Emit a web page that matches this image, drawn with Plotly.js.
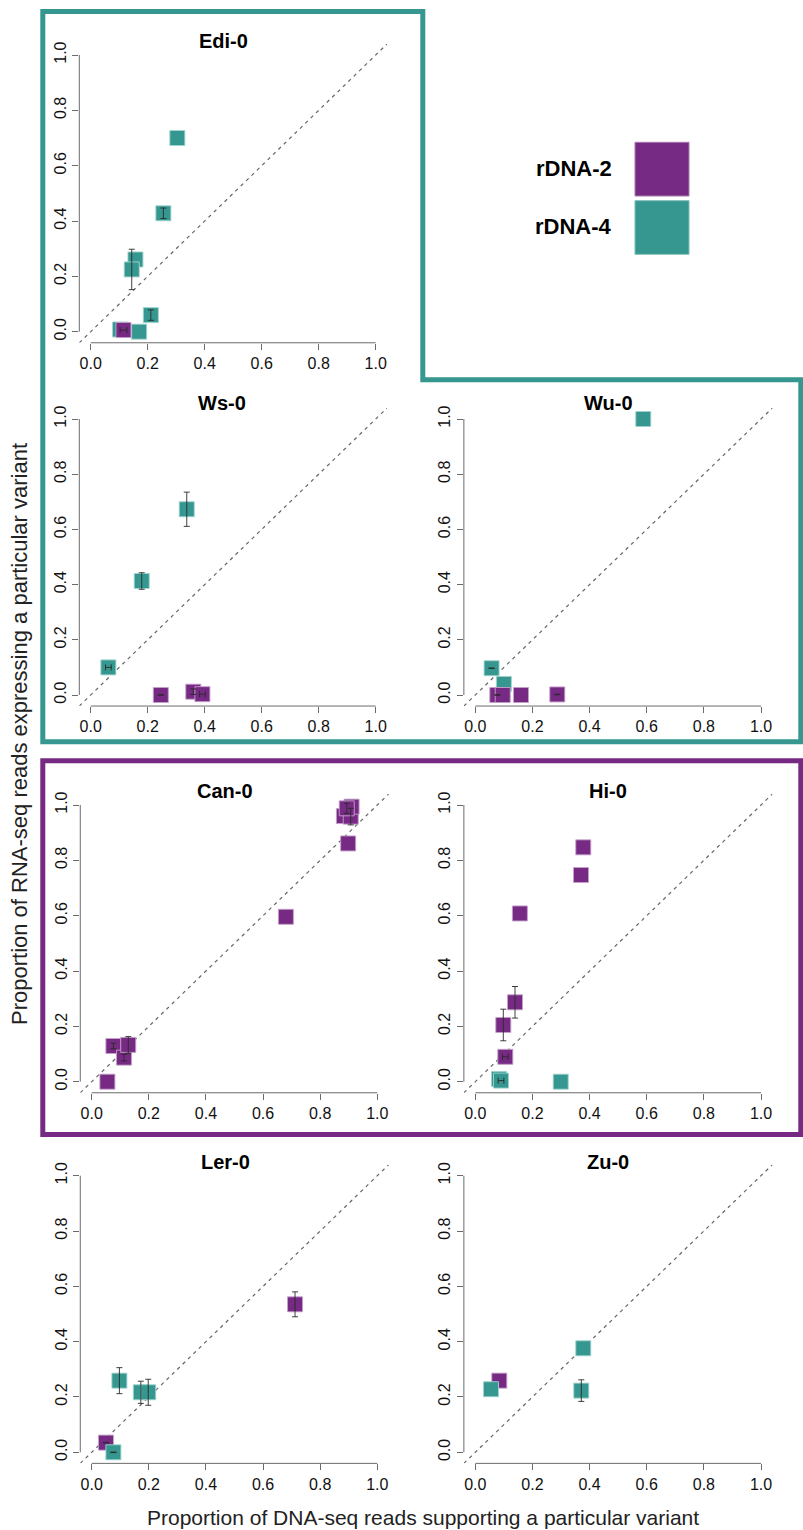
<!DOCTYPE html>
<html>
<head>
<meta charset="utf-8">
<script src="https://cdn.plot.ly/plotly-3.0.1.min.js"></script>
<style>html,body{margin:0;padding:0;background:#fff;}#chart{width:803px;height:1530px;}</style>
</head>
<body>
<div id="chart"></div>
<script>
// ---------------- DATA ----------------
const seriesNames = ['rDNA-2', 'rDNA-4'];
const panelNames = ['Edi-0', 'Ws-0', 'Wu-0', 'Can-0', 'Hi-0', 'Ler-0', 'Zu-0'];
const tickValues = [0, 0.2, 0.4, 0.6, 0.8, 1.0];
const tickLabels = ['0.0', '0.2', '0.4', '0.6', '0.8', '1.0'];
const identityLine = [-0.04, 1.04];

// Edi-0
const ediR2x = [0.115];
const ediR2y = [0.006];
const ediR2ey = [null];
const ediR2ex = [0.012];
const ediR4x = [0.304, 0.255, 0.157, 0.144, 0.211, 0.103, 0.170];
const ediR4y = [0.700, 0.428, 0.261, 0.225, 0.060, 0.008, 0.000];
const ediR4ey = [null, 0.019, null, 0.073, 0.019, null, null];
const ediR4ex = [null, null, null, null, null, null, null];

// Ws-0
const wsR2x = [0.246, 0.360, 0.392];
const wsR2y = [0.000, 0.012, 0.003];
const wsR2ey = [0.001, 0.010, null];
const wsR2ex = [null, null, 0.010];
const wsR4x = [0.337, 0.179, 0.062];
const wsR4y = [0.673, 0.413, 0.100];
const wsR4ey = [0.062, 0.030, null];
const wsR4ex = [null, null, 0.010];

// Wu-0
const wuR2x = [0.077, 0.096, 0.160, 0.287];
const wuR2y = [0.000, 0.000, 0.000, 0.002];
const wuR2ey = [0.001, null, null, 0.001];
const wuR2ex = [null, null, null, null];
const wuR4x = [0.588, 0.057, 0.100];
const wuR4y = [1.000, 0.097, 0.040];
const wuR4ey = [null, 0.001, null];
const wuR4ex = [null, null, null];

// Can-0
const canR2x = [0.055, 0.076, 0.113, 0.128, 0.680, 0.898, 0.883, 0.907, 0.910, 0.893];
const canR2y = [0.000, 0.129, 0.087, 0.133, 0.596, 0.861, 0.960, 0.958, 0.994, 0.988];
const canR2ey = [null, 0.010, 0.012, 0.030, null, null, null, 0.030, null, 0.018];
const canR2ex = [null, null, null, null, null, null, null, null, null, null];
const canR4x = [];
const canR4y = [];
const canR4ey = [];
const canR4ex = [];

// Hi-0
const hiR2x = [0.378, 0.370, 0.156, 0.139, 0.098, 0.105];
const hiR2y = [0.847, 0.747, 0.608, 0.287, 0.205, 0.090];
const hiR2ey = [null, null, null, 0.057, 0.057, null];
const hiR2ex = [null, null, null, null, null, 0.010];
const hiR4x = [0.083, 0.090, 0.299];
const hiR4y = [0.010, 0.004, 0.000];
const hiR4ey = [null, null, null];
const hiR4ex = [null, 0.010, null];

// Ler-0
const lerR2x = [0.712, 0.050];
const lerR2y = [0.535, 0.035];
const lerR2ey = [0.045, 0.001];
const lerR2ex = [null, null];
const lerR4x = [0.097, 0.172, 0.198, 0.076];
const lerR4y = [0.259, 0.217, 0.217, 0.000];
const lerR4ey = [0.047, 0.040, 0.047, 0.001];
const lerR4ex = [null, null, null, null];

// Zu-0
const zuR2x = [0.084];
const zuR2y = [0.259];
const zuR2ey = [null];
const zuR2ex = [null];
const zuR4x = [0.378, 0.371, 0.055];
const zuR4y = [0.376, 0.223, 0.228];
const zuR4ey = [null, 0.039, null];
const zuR4ex = [null, null, null];

// ---------------- STYLE / LAYOUT ----------------
const W = 803, H = 1530;
const PURPLE = '#762A83', TEAL = '#35978F';
const FONT = '"Liberation Sans", Arial, Helvetica, sans-serif';
const AXISGRAY = '#6b6b6b';

// pixel geometry of each panel: positions of data 0 and 1 on each axis
const geom = [
  {x0: 90.7, x1: 375.7, y0: 331.7, y1: 55.0, tx: 223.3, ty: 40.7},
  {x0: 90.7, x1: 375.7, y0: 695.0, y1: 419.0, tx: 222.3, ty: 403.3},
  {x0: 475.3, x1: 761.0, y0: 695.0, y1: 419.0, tx: 608.3, ty: 403.3},
  {x0: 91.7, x1: 377.3, y0: 1081.7, y1: 805.0, tx: 225.0, ty: 790.7},
  {x0: 475.3, x1: 761.0, y0: 1081.7, y1: 805.0, tx: 608.0, ty: 790.7},
  {x0: 91.7, x1: 377.3, y0: 1452.3, y1: 1175.7, tx: 225.0, ty: 1161.7},
  {x0: 475.3, x1: 761.0, y0: 1452.3, y1: 1175.7, tx: 608.3, ty: 1161.7}
];

const panelData = [
  {r2: [ediR2x, ediR2y, ediR2ey, ediR2ex], r4: [ediR4x, ediR4y, ediR4ey, ediR4ex], purpleOnTop: true},
  {r2: [wsR2x, wsR2y, wsR2ey, wsR2ex], r4: [wsR4x, wsR4y, wsR4ey, wsR4ex], purpleOnTop: true},
  {r2: [wuR2x, wuR2y, wuR2ey, wuR2ex], r4: [wuR4x, wuR4y, wuR4ey, wuR4ex], purpleOnTop: true},
  {r2: [canR2x, canR2y, canR2ey, canR2ex], r4: [canR4x, canR4y, canR4ey, canR4ex], purpleOnTop: true},
  {r2: [hiR2x, hiR2y, hiR2ey, hiR2ex], r4: [hiR4x, hiR4y, hiR4ey, hiR4ex], purpleOnTop: true},
  {r2: [lerR2x, lerR2y, lerR2ey, lerR2ex], r4: [lerR4x, lerR4y, lerR4ey, lerR4ex], purpleOnTop: false},
  {r2: [zuR2x, zuR2y, zuR2ey, zuR2ex], r4: [zuR4x, zuR4y, zuR4ey, zuR4ex], purpleOnTop: false}
];

const fx = px => px / W;
const fy = py => 1 - py / H;

const traces = [];
const layout = {
  width: W, height: H,
  margin: {l: 0, r: 0, t: 0, b: 0},
  paper_bgcolor: '#ffffff',
  plot_bgcolor: 'rgba(0,0,0,0)',
  showlegend: false,
  font: {family: FONT, color: '#111'},
  shapes: [],
  annotations: []
};

function markerTrace(arr, color, name, xa, ya) {
  return {
    type: 'scatter', mode: 'markers', name: name,
    x: arr[0], y: arr[1], xaxis: xa, yaxis: ya,
    cliponaxis: false, hoverinfo: 'skip',
    marker: {symbol: 'square', size: 15, color: color,
             line: {width: 1, color: color === PURPLE ? 'rgba(196,160,202,0.9)' : 'rgba(160,212,206,0.9)'}}
  };
}
// error bars only for the points that carry them (k = 2: vertical, k = 3: horizontal)
function errorTrace(arr, name, xa, ya, k) {
  const idx = arr[k].map((v, j) => (v === null || v === undefined) ? -1 : j).filter(j => j >= 0);
  if (!idx.length) return null;
  const eb = {type: 'data', array: idx.map(j => arr[k][j]), visible: true, color: '#2a2a2a', thickness: 0.9, width: 3};
  const t = {
    type: 'scatter', mode: 'markers', name: name + ' error',
    x: idx.map(j => arr[0][j]), y: idx.map(j => arr[1][j]), xaxis: xa, yaxis: ya,
    cliponaxis: false, hoverinfo: 'skip',
    marker: {size: 1, opacity: 0}
  };
  if (k === 2) t.error_y = eb; else t.error_x = eb;
  return t;
}

panelNames.forEach((pname, i) => {
  const g = geom[i];
  const n = i + 1;
  const xa = 'x' + (n === 1 ? '' : n), ya = 'y' + (n === 1 ? '' : n);
  const xkey = 'xaxis' + (n === 1 ? '' : n), ykey = 'yaxis' + (n === 1 ? '' : n);
  const dx = g.x1 - g.x0, dy = g.y0 - g.y1;
  const left = g.x0 - 0.04 * dx, right = g.x1 + 0.04 * dx;
  const bottom = g.y0 + 0.04 * dy, top = g.y1 - 0.04 * dy;

  const common = {
    range: [identityLine[0], identityLine[1]],
    tickmode: 'array', tickvals: tickValues, ticktext: tickLabels,
    ticks: 'outside', ticklen: 6, tickwidth: 1, tickcolor: AXISGRAY,
    showgrid: false, zeroline: false, showline: false, fixedrange: true,
    tickfont: {family: FONT, size: 16, color: '#111'}
  };
  layout[xkey] = Object.assign({}, common, {domain: [fx(left), fx(right)], anchor: ya});
  layout[ykey] = Object.assign({}, common, {domain: [fy(bottom), fy(top)], anchor: xa, tickangle: -90});

  // axis lines spanning only 0..1 like base R
  layout.shapes.push({type: 'line', xref: xa + ' domain', yref: ya, x0: 0, x1: 0, y0: tickValues[0], y1: tickValues[tickValues.length - 1],
                      line: {color: AXISGRAY, width: 1}});
  layout.shapes.push({type: 'line', xref: xa, yref: ya + ' domain', x0: tickValues[0], x1: tickValues[tickValues.length - 1], y0: 0, y1: 0,
                      line: {color: AXISGRAY, width: 1}});

  // identity (y = x) reference line
  traces.push({type: 'scatter', mode: 'lines', x: identityLine, y: identityLine, xaxis: xa, yaxis: ya,
               hoverinfo: 'skip', line: {color: '#666666', width: 1.2, dash: '3.5px,4px'}, name: 'y = x'});

  const pd = panelData[i];
  const order = pd.purpleOnTop ? [['r4', TEAL, seriesNames[1]], ['r2', PURPLE, seriesNames[0]]]
                               : [['r2', PURPLE, seriesNames[0]], ['r4', TEAL, seriesNames[1]]];
  order.forEach(([key, col, nm]) => {
    if (pd[key][0].length) traces.push(markerTrace(pd[key], col, nm, xa, ya));
  });
  order.forEach(([key, col, nm]) => {
    [2, 3].forEach(k => {
      const t = errorTrace(pd[key], nm, xa, ya, k);
      if (t) traces.push(t);
    });
  });

  layout.annotations.push({xref: 'paper', yref: 'paper', x: fx(g.tx), y: fy(g.ty), xanchor: 'center', yanchor: 'middle',
                           showarrow: false, text: '<b>' + pname + '</b>', font: {family: FONT, size: 20, color: '#000'}});
});

// frames
const T = 5;
layout.shapes.push({type: 'path', xref: 'paper', yref: 'paper',
  path: 'M ' + fx(42.8) + ' ' + fy(11.5) + ' L ' + fx(422.8) + ' ' + fy(11.5) + ' L ' + fx(422.8) + ' ' + fy(379.8) +
        ' L ' + fx(800.8) + ' ' + fy(379.8) + ' L ' + fx(800.8) + ' ' + fy(741.8) + ' L ' + fx(42.8) + ' ' + fy(741.8) + ' Z',
  line: {color: TEAL, width: T}});
layout.shapes.push({type: 'rect', xref: 'paper', yref: 'paper',
  x0: fx(42.8), x1: fx(800.8), y0: fy(1134.5), y1: fy(760.8),
  line: {color: PURPLE, width: T}});

// legend
const legendRows = [[seriesNames[0], PURPLE, 142.3, 196.0, 168.3], [seriesNames[1], TEAL, 200.7, 254.3, 226.7]];
legendRows.forEach(([nm, col, t, b, ty]) => {
  layout.shapes.push({type: 'rect', xref: 'paper', yref: 'paper', x0: fx(635), x1: fx(689), y0: fy(b), y1: fy(t),
                      fillcolor: col, line: {color: col === PURPLE ? '#a77aae' : '#7cbdb6', width: 1}});
  layout.annotations.push({xref: 'paper', yref: 'paper', x: fx(614), y: fy(ty), xanchor: 'right', yanchor: 'middle',
                           showarrow: false, text: '<b>' + nm + '</b>', font: {family: FONT, size: 22, color: '#000'}});
});

// axis titles
layout.annotations.push({xref: 'paper', yref: 'paper', x: fx(423), y: fy(1517), xanchor: 'center', yanchor: 'middle',
                         showarrow: false, text: 'Proportion of DNA-seq reads supporting a particular variant',
                         font: {family: FONT, size: 21, color: '#222'}});
layout.annotations.push({xref: 'paper', yref: 'paper', x: fx(19), y: fy(734), xanchor: 'center', yanchor: 'middle',
                         textangle: -90, showarrow: false, text: 'Proportion of RNA-seq reads expressing a particular variant',
                         font: {family: FONT, size: 22, color: '#222'}});

Plotly.newPlot('chart', traces, layout, {staticPlot: true, displayModeBar: false});
</script>
</body>
</html>
